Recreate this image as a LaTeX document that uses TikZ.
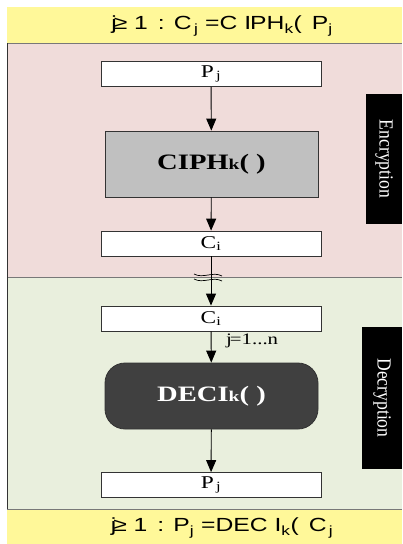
\documentclass[tikz,border=0pt]{standalone}
\usepackage{fontspec}
\setmainfont{Liberation Serif}
\newfontfamily\hdrfont[FakeStretch=1.3]{Liberation Sans}
\newfontfamily\widefont[FakeStretch=1.3]{Liberation Serif}
\newfontfamily\tallfont[FakeStretch=0.88]{Liberation Serif}
\usetikzlibrary{arrows.meta}
\definecolor{bandyellow}{RGB}{255,248,153}
\definecolor{encpink}{RGB}{240,220,218}
\definecolor{decgreen}{RGB}{233,239,221}
\definecolor{ciphgray}{RGB}{192,192,192}
\definecolor{decidark}{RGB}{64,64,64}
\definecolor{sepgray}{RGB}{120,120,120}
\tikzset{
  databox/.style={draw=black!80, fill=white, line width=0.8pt, minimum width=220pt, minimum height=25pt, inner sep=0pt, font=\widefont\fontsize{18}{18}\selectfont},
  funcbox/.style={draw=black!80, line width=0.8pt, minimum width=213pt, minimum height=66pt, inner sep=0pt, font=\widefont\fontsize{22}{22}\selectfont\bfseries},
  sidetag/.style={fill=black, text=white, inner sep=0pt},
  sidetext/.style={text=white, rotate=-90, inner sep=0pt, font=\tallfont\fontsize{20}{20}\selectfont},
  flow/.style={-{Triangle[width=10pt,length=12pt]}, line width=0.9pt, black},
  hdr/.style={font=\hdrfont\fontsize{19}{19}\selectfont, inner sep=0pt}
}
\begin{document}
\begin{tikzpicture}[x=1pt,y=-1pt]
\useasboundingbox (0,0) rectangle (402,544);
% background bands
\fill[bandyellow] (7,7) rectangle (402,43);
\fill[encpink] (7,43) rectangle (402,277);
\fill[decgreen] (7,277) rectangle (402,509);
\fill[bandyellow] (7,509) rectangle (402,544);
\draw[sepgray, line width=1pt] (7,43) -- (402,43);
\draw[sepgray, line width=1pt] (7,277) -- (402,277);
\draw[sepgray, line width=1pt] (7,509) -- (402,509);
\draw[black!80, line width=1.5pt] (7.5,43) -- (7.5,509);
% header / footer formulas
\node[hdr] (top) at (222,26) {j\kern-3pt≥ 1 \,: C\textsubscript{\,j} =C I\kern-1ptPH\textsubscript{k}(\, P\textsubscript{j}};
\node[hdr] (bot) at (222,528) {j\kern-3pt≥ 1 \,: P\textsubscript{j} =DEC I\textsubscript{k}(\, C\textsubscript{\,j}};
% nodes
\node[databox] (pj) at (211,74) {P\textsubscript{\,j}};
\node[funcbox, fill=ciphgray] (ciph) at (211.5,164) {CIPH{\fontsize{15}{15}\selectfont k}( )};
\node[databox] (ci) at (211,243.5) {C\textsubscript{i}};
\node[databox] (ci2) at (211,318.5) {C\textsubscript{i}};
\node[funcbox, fill=decidark, text=white, rounded corners=20pt] (deci) at (211.5,396) {DECI{\fontsize{15}{15}\selectfont k}( )};
\node[databox] (pj2) at (211,485) {P\textsubscript{\,j}};
\node[font=\widefont\fontsize{16}{16}\selectfont, anchor=west, inner sep=0pt] (jn) at (226,341) {j\kern-2pt=1...n};
% side tags
\node[sidetag, minimum width=36pt, minimum height=130pt] (enc) at (384,159) {};
\node[sidetext] (enctxt) at (enc.center) {Encryption};
\node[sidetag, minimum width=40pt, minimum height=142pt] (dec) at (382,398) {};
\node[sidetext] (dectxt) at (dec.center) {Decryption};
% connectors
\draw[flow] (pj) -- (ciph);
\draw[flow] (ciph) -- (ci);
\draw[flow] (ci) -- (ci2);
\draw[flow] (ci2) -- (deci);
\draw[flow] (deci) -- (pj2);
% break mark
\coordinate (brk) at (211,278);
\draw[black, line width=0.7pt] ([xshift=-17pt,yshift=-1pt]brk) .. controls ([xshift=-8pt,yshift=-6pt]brk) and ([xshift=2pt,yshift=2pt]brk) .. ([xshift=11pt,yshift=-3pt]brk);
\draw[black, line width=0.7pt] ([xshift=-17pt,yshift=4pt]brk) .. controls ([xshift=-8pt,yshift=-1pt]brk) and ([xshift=2pt,yshift=7pt]brk) .. ([xshift=11pt,yshift=2pt]brk);
\end{tikzpicture}
\end{document}
